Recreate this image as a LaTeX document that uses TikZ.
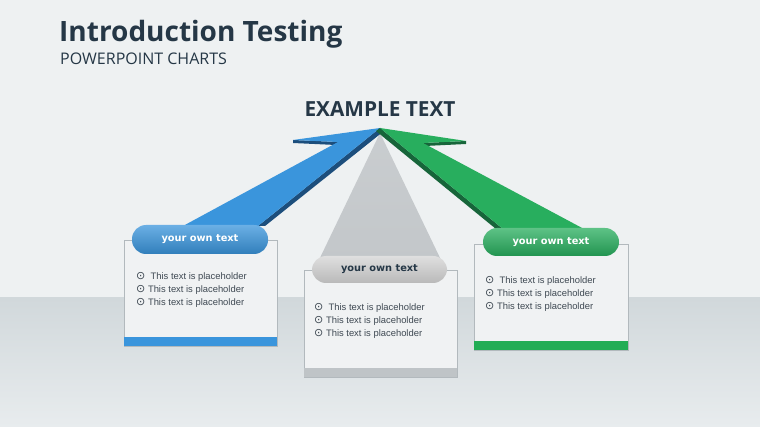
\documentclass[tikz,border=0pt]{standalone}
\usepackage{fontspec}
\setmainfont{Liberation Sans}
\newfontfamily\headfont{Open Sans}
\newfontfamily\pillfont{DejaVu Sans}
\newfontfamily\symfont{DejaVu Sans}
\usetikzlibrary{positioning, arrows.meta}

\definecolor{bgtop}{HTML}{EEF1F2}
\definecolor{bandtop}{HTML}{D1D8DB}
\definecolor{bandbot}{HTML}{E8ECEE}
\definecolor{navy}{HTML}{253746}
\definecolor{bodytext}{HTML}{3E4852}
\definecolor{arrblue}{HTML}{3A95DC}
\definecolor{arrbluedark}{HTML}{1C4E7C}
\definecolor{arrgreen}{HTML}{28AE5E}
\definecolor{arrgreendark}{HTML}{17653A}
\definecolor{cone}{HTML}{C3C7CA}
\definecolor{boxfill}{HTML}{F0F2F3}
\definecolor{boxline}{HTML}{B2B9BD}
\definecolor{barblue}{HTML}{3A95DC}
\definecolor{bargreen}{HTML}{22AD55}
\definecolor{bargray}{HTML}{BFC4C7}

\newcommand{\bul}{{\symfont\fontsize{11}{13}\selectfont ⊙}}

\begin{document}
\begin{tikzpicture}[
        x=1pt, y=-1pt,
        card/.style={
          rectangle,
          draw=boxline,
          line width=0.8pt,
          fill=boxfill,
          minimum width=153pt,
          minimum height=106pt
        },
        pill/.style={
          rectangle,
          rounded corners=14pt,
          minimum width=136pt,
          minimum height=28pt,
          font=\pillfont\bfseries\fontsize{9.8}{11}\selectfont
        },
        items/.style={
          align=left,
          inner sep=0pt,
          text=bodytext,
          font=\fontsize{9.4}{13}\selectfont
        }
      ]
      \useasboundingbox (0,0) rectangle (760,427);

      % Background
      \fill [bgtop] (0,0) rectangle (760,427);
      \shade [top color=bandtop, bottom color=bandbot] (0,298) rectangle (760,427);

      % Titles
      \node [anchor=base west, inner sep=0pt, text=navy,
             font=\headfont\bfseries\fontsize{28}{31}\selectfont] (title) at (59,42) {Introduction Testing};
      \node [anchor=base west, inner sep=0pt, text=navy,
             font=\headfont\fontsize{16}{18}\selectfont] (subtitle) at (60,65) {POWERPOINT CHARTS};
      \node [anchor=base, inner sep=0pt, text=navy,
             font=\headfont\bfseries\fontsize{20.8}{24}\selectfont] (heading) at (380,117) {EXAMPLE TEXT};

      % Arrows
      \coordinate (apex) at (380,128);
      \shade [top color=cone!90!white, bottom color=cone] (380,133) -- (442,262) -- (318,262) -- cycle;

      \fill [arrbluedark] (apex) -- (384,131) -- (265,226) -- (258,226) -- cycle;
      \fill [arrbluedark] (293,140) -- (338,142) -- (336,145) -- (293,143) -- cycle;
      \fill [arrblue] (apex) -- (293,140) -- (338,142) -- (183,226) -- (258,226) -- cycle;

      \fill [arrgreendark] (apex) -- (376,131) -- (496,229) -- (503,229) -- cycle;
      \fill [arrgreendark] (466,141) -- (423,143) -- (425,146) -- (466,144) -- cycle;
      \fill [arrgreen] (apex) -- (466,141) -- (423,143) -- (584,229) -- (503,229) -- cycle;

      % Cards
      \node [card] (cardblue) at (200.5,293) {};
      \fill [barblue] (cardblue.south west) rectangle ([yshift=9pt]cardblue.south east);
      \node [card, minimum height=107pt] (cardgray) at (380.5,323.5) {};
      \fill [bargray] (cardgray.south west) rectangle ([yshift=9pt]cardgray.south east);
      \node [card, minimum width=154pt] (cardgreen) at (551,297) {};
      \fill [bargreen] (cardgreen.south west) rectangle ([yshift=9pt]cardgreen.south east);

      % Pills
      \node [pill, top color=arrblue!75!white, bottom color=arrblue!85!black, text=white,
             minimum height=29pt] (pillblue) at (200,239.5) {your own text};
      \node [pill, top color=gray!25, bottom color=gray!55, text=navy,
             minimum width=135pt, minimum height=27pt] (pillgray) at (379.5,269.5) {your own text};
      \node [pill, top color=arrgreen!75!white, bottom color=arrgreen!85!black, text=white] (pillgreen) at (551,242) {your own text};

      % Placeholder lists
      \node [items, anchor=north west] (listblue) at (136,272)
        {\bul\ \ This text is placeholder\\ \bul\ This text is placeholder\\ \bul\ This text is placeholder};
      \node [items, anchor=north west] (listgray) at (314,303)
        {\bul\ \ This text is placeholder\\ \bul\ This text is placeholder\\ \bul\ This text is placeholder};
      \node [items, anchor=north west] (listgreen) at (485,276)
        {\bul\ \ This text is placeholder\\ \bul\ This text is placeholder\\ \bul\ This text is placeholder};

    \end{tikzpicture}
\end{document}
